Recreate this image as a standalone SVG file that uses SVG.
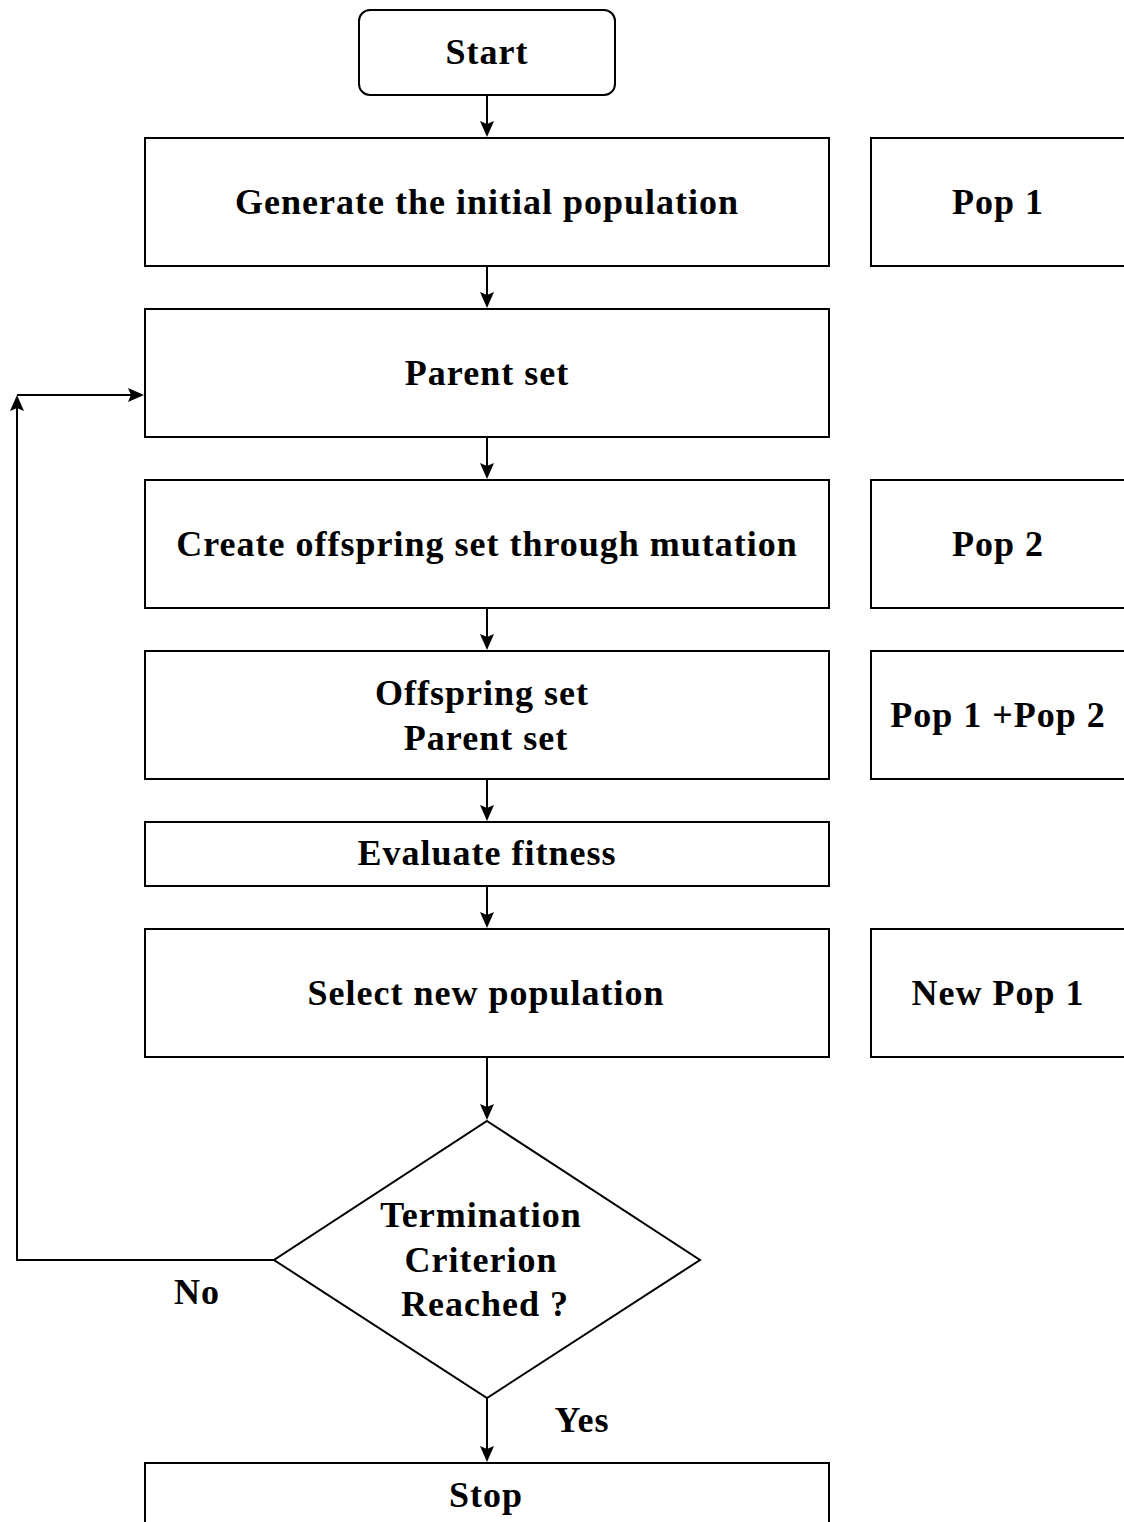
<svg xmlns="http://www.w3.org/2000/svg" width="1124" height="1522" viewBox="0 0 1124 1522">
<style>
.n{fill:#fff;stroke:#000;stroke-width:2}
.t{font-family:"Liberation Serif","Times New Roman",serif;font-weight:bold;font-size:36px;letter-spacing:1px;fill:#000;text-anchor:middle;dominant-baseline:central}
.c{fill:none;stroke:#000;stroke-width:2}
.h{fill:#000}
</style>
<rect width="1124" height="1522" fill="#fff"/>
<g id="connectors">
<line class="c" x1="487" y1="95" x2="487" y2="128"/>
<path class="h" d="M480,121 L487,137 L494,121 L487,124 z"/>
<line class="c" x1="487" y1="266" x2="487" y2="300"/>
<path class="h" d="M480,292 L487,308 L494,292 L487,295 z"/>
<line class="c" x1="487" y1="437" x2="487" y2="471"/>
<path class="h" d="M480,463 L487,479 L494,463 L487,466 z"/>
<line class="c" x1="487" y1="608" x2="487" y2="642"/>
<path class="h" d="M480,634 L487,650 L494,634 L487,637 z"/>
<line class="c" x1="487" y1="779" x2="487" y2="813"/>
<path class="h" d="M480,805 L487,821 L494,805 L487,808 z"/>
<line class="c" x1="487" y1="886" x2="487" y2="920"/>
<path class="h" d="M480,912 L487,928 L494,912 L487,915 z"/>
<line class="c" x1="487" y1="1057" x2="487" y2="1112"/>
<path class="h" d="M480,1104 L487,1120 L494,1104 L487,1107 z"/>
<line class="c" x1="487" y1="1398" x2="487" y2="1454"/>
<path class="h" d="M480,1446 L487,1462 L494,1446 L487,1449 z"/>
<polyline class="c" points="274,1260 17,1260 17,403"/>
<path class="h" d="M10,411 L17,395 L24,411 L17,408 z"/>
<line class="c" x1="17" y1="395" x2="136" y2="395"/>
<path class="h" d="M128,388 L144,395 L128,402 L131,395 z"/>
<text class="t" x="197" y="1292">No</text>
<text class="t" x="582" y="1420">Yes</text>
</g>
<g id="start"><rect class="n" x="359" y="10" width="256" height="85" rx="11"/><text class="t" x="487" y="52">Start</text></g>
<g id="generate"><rect class="n" x="145" y="138" width="684" height="128"/><text class="t" x="487" y="202">Generate the initial population</text></g>
<g id="pop1"><rect class="n" x="871" y="138" width="270" height="128"/><text class="t" x="998" y="202">Pop 1</text></g>
<g id="parent"><rect class="n" x="145" y="309" width="684" height="128"/><text class="t" x="487" y="373">Parent set</text></g>
<g id="create"><rect class="n" x="145" y="480" width="684" height="128"/><text class="t" x="487" y="544">Create offspring set through mutation</text></g>
<g id="pop2"><rect class="n" x="871" y="480" width="270" height="128"/><text class="t" x="998" y="544">Pop 2</text></g>
<g id="offspring"><rect class="n" x="145" y="651" width="684" height="128"/><text class="t" x="482" y="693">Offspring set</text><text class="t" x="486" y="738">Parent set</text></g>
<g id="pop12"><rect class="n" x="871" y="651" width="270" height="128"/><text class="t" x="998" y="715">Pop 1 +Pop 2</text></g>
<g id="evaluate"><rect class="n" x="145" y="822" width="684" height="64"/><text class="t" x="487" y="853">Evaluate fitness</text></g>
<g id="select"><rect class="n" x="145" y="929" width="684" height="128"/><text class="t" x="486" y="993">Select new population</text></g>
<g id="newpop1"><rect class="n" x="871" y="929" width="270" height="128"/><text class="t" x="998" y="993">New Pop 1</text></g>
<g id="decision"><polygon class="n" points="487,1121 700,1260 487,1398 274,1260"/><text class="t" x="481" y="1215">Termination</text><text class="t" x="481" y="1260">Criterion</text><text class="t" x="485" y="1304">Reached ?</text></g>
<g id="stop"><rect class="n" x="145" y="1463" width="684" height="100"/><text class="t" x="486" y="1495">Stop</text></g>
</svg>
